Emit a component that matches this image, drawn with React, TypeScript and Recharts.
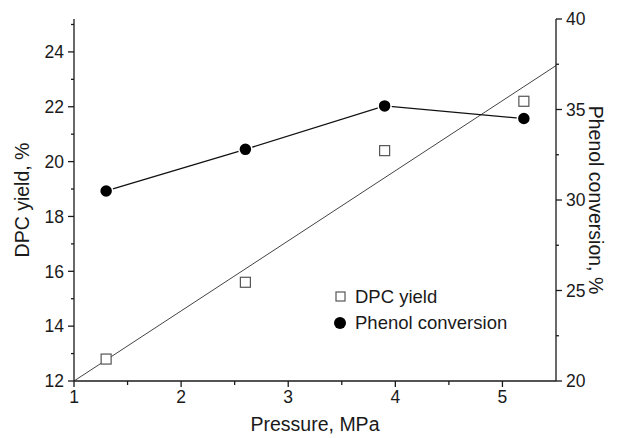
import {
  ComposedChart,
  Line,
  XAxis,
  YAxis,
} from 'recharts';

const pressure = [1.3, 2.6, 3.9, 5.2];
const dpcYield = [12.8, 15.6, 20.4, 22.2];
const phenolConversion = [30.5, 32.8, 35.2, 34.5];

// straight fit through the yield points
const fitPressure = [1, 5.5];
const fitYield = [12, 23.5];

const xTicks = [1, 1.5, 2, 2.5, 3, 3.5, 4, 4.5, 5];
const leftTicks = [12, 13, 14, 15, 16, 17, 18, 19, 20, 21, 22, 23, 24, 25];
const rightTicks = [20, 22.5, 25, 27.5, 30, 32.5, 35, 37.5, 40];

const yieldData = pressure.map((x, i) => ({ x, y: dpcYield[i] }));
const conversionData = pressure.map((x, i) => ({ x, c: phenolConversion[i] }));
const fitData = fitPressure.map((x, i) => ({ x, y: fitYield[i] }));

const FONT = '"Liberation Sans", Arial, sans-serif';
const INK = '#1a1a1a';
const TICK_FS = 17.5;
const TITLE_FS = 19.5;

function XTick({ x, y, payload }: any) {
  const v = payload.value;
  const major = Number.isInteger(v);
  const axisY = y - 10;
  return (
    <g>
      <line x1={x} x2={x} y1={axisY} y2={axisY + (major ? 6 : 4)} stroke={INK} strokeWidth={1.3} />
      {major && (
        <text x={x} y={y} dy="0.71em" textAnchor="middle" fill={INK} fontSize={TICK_FS} fontFamily={FONT}>
          {v}
        </text>
      )}
    </g>
  );
}

function LeftTick({ x, y, payload }: any) {
  const v = payload.value;
  const major = v % 2 === 0;
  const axisX = x + 10;
  return (
    <g>
      <line x1={axisX} x2={axisX - (major ? 6 : 3)} y1={y} y2={y} stroke={INK} strokeWidth={1.3} />
      {major && (
        <text x={x} y={y} dy="0.355em" textAnchor="end" fill={INK} fontSize={TICK_FS} fontFamily={FONT}>
          {v}
        </text>
      )}
    </g>
  );
}

function RightTick({ x, y, payload }: any) {
  const v = payload.value;
  const major = v % 5 === 0;
  const axisX = x - 10;
  return (
    <g>
      <line x1={axisX} x2={axisX + (major ? 6 : 3)} y1={y} y2={y} stroke={INK} strokeWidth={1.3} />
      {major && (
        <text x={x} y={y} dy="0.355em" textAnchor="start" fill={INK} fontSize={TICK_FS} fontFamily={FONT}>
          {v}
        </text>
      )}
    </g>
  );
}

function SquareDot({ cx, cy }: any) {
  if (cx == null || cy == null) return null;
  return <rect x={cx - 5} y={cy - 5} width={10} height={10} fill="#fff" stroke="#555" strokeWidth={1.2} />;
}

function CircleDot({ cx, cy }: any) {
  if (cx == null || cy == null) return null;
  return <circle cx={cx} cy={cy} r={6.5} fill="#000" stroke="#fff" strokeWidth={1.5} />;
}

function LegendBox() {
  return (
    <div
      style={{
        position: 'absolute',
        left: 332,
        top: 284,
        fontFamily: FONT,
        fontSize: 18.5,
        color: INK,
        lineHeight: '26px',
      }}
    >
      <div style={{ display: 'flex', alignItems: 'center' }}>
        <svg width={18} height={14}>
          <rect x={4} y={2} width={9} height={9} fill="#fff" stroke="#555" strokeWidth={1.2} />
        </svg>
        <span style={{ marginLeft: 5 }}>DPC yield</span>
      </div>
      <div style={{ display: 'flex', alignItems: 'center' }}>
        <svg width={18} height={14}>
          <circle cx={8} cy={7} r={6} fill="#000" />
        </svg>
        <span style={{ marginLeft: 5 }}>Phenol conversion</span>
      </div>
    </div>
  );
}

export default function App() {
  return (
    <div style={{ position: 'absolute', left: 0, top: 0, width: 622, height: 438, background: '#fff' }}>
      <ComposedChart width={622} height={438} margin={{ top: 19, right: 20, bottom: 17, left: 30 }}>
        <XAxis
          xAxisId="b"
          dataKey="x"
          type="number"
          domain={[1, 5.5]}
          ticks={xTicks}
          interval={0}
          allowDataOverflow
          tickLine={false}
          tickSize={7}
          tickMargin={3}
          tick={<XTick />}
          axisLine={{ stroke: INK, strokeWidth: 1.3 }}
          height={40}
          label={{ value: 'Pressure, MPa', position: 'insideBottom', offset: -10, fill: INK, fontSize: TITLE_FS, fontFamily: FONT }}
        />
        <XAxis
          xAxisId="t"
          orientation="top"
          dataKey="x"
          type="number"
          domain={[1, 5.5]}
          tick={false}
          tickLine={false}
          height={0}
          axisLine={{ stroke: INK, strokeWidth: 1.3 }}
        />
        <YAxis
          yAxisId="l"
          type="number"
          domain={[12, 25.2]}
          ticks={leftTicks}
          interval={0}
          allowDataOverflow
          tickLine={false}
          tickSize={7}
          tickMargin={3}
          tick={<LeftTick />}
          width={44}
          axisLine={{ stroke: INK, strokeWidth: 1.3 }}
          label={{ value: 'DPC yield, %', angle: -90, position: 'insideLeft', offset: -8, style: { textAnchor: 'middle' }, fill: INK, fontSize: TITLE_FS, fontFamily: FONT }}
        />
        <YAxis
          yAxisId="r"
          orientation="right"
          type="number"
          domain={[20, 40]}
          ticks={rightTicks}
          interval={0}
          tickLine={false}
          tickSize={7}
          tickMargin={3}
          tick={<RightTick />}
          width={46}
          axisLine={{ stroke: INK, strokeWidth: 1.3 }}
          label={{ value: 'Phenol conversion, %', angle: 90, position: 'insideRight', offset: 6, style: { textAnchor: 'middle' }, fill: INK, fontSize: TITLE_FS, fontFamily: FONT }}
        />
        <Line
          data={fitData}
          xAxisId="b"
          yAxisId="l"
          dataKey="y"
          stroke="#444"
          strokeWidth={1}
          dot={false}
          legendType="none"
          isAnimationActive={false}
        />
        <Line
          data={conversionData}
          xAxisId="b"
          yAxisId="r"
          dataKey="c"
          stroke="#111"
          strokeWidth={1.3}
          dot={<CircleDot />}
          activeDot={false}
          isAnimationActive={false}
        />
        <Line
          data={yieldData}
          xAxisId="b"
          yAxisId="l"
          dataKey="y"
          stroke="none"
          dot={<SquareDot />}
          activeDot={false}
          isAnimationActive={false}
        />
      </ComposedChart>
      <LegendBox />
    </div>
  );
}
